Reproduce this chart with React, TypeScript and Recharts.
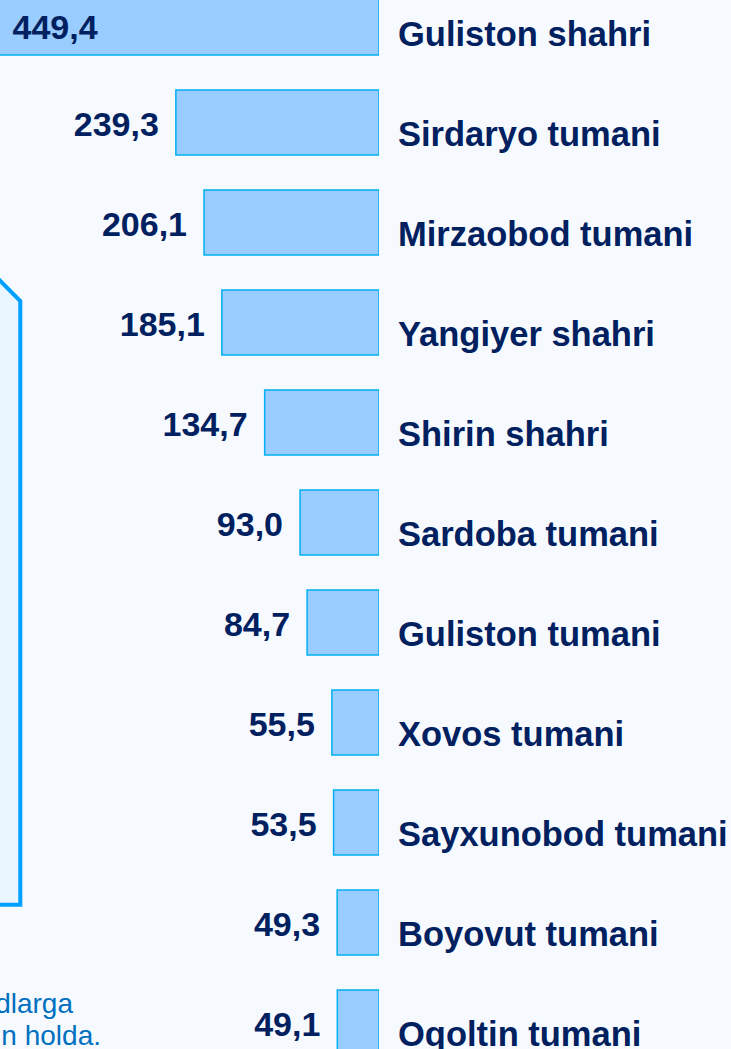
import React from 'react';
import { BarChart, Bar, XAxis, YAxis, LabelList } from 'recharts';

const districts = [
  'Guliston shahri',
  'Sirdaryo tumani',
  'Mirzaobod tumani',
  'Yangiyer shahri',
  'Shirin shahri',
  'Sardoba tumani',
  'Guliston tumani',
  'Xovos tumani',
  'Sayxunobod tumani',
  'Boyovut tumani',
  'Oqoltin tumani',
];
const values = [449.4, 239.3, 206.1, 185.1, 134.7, 93.0, 84.7, 55.5, 53.5, 49.3, 49.1];
const xDomain: [number, number] = [0, 470];
const noteLines = ['dlarga', 'n holda.'];

const data = districts.map((name, i) => ({ name, value: values[i] }));

const FONT = '"Liberation Sans", Arial, Helvetica, sans-serif';
const NAVY = '#002060';

const fmt = (v: number) => v.toFixed(1).replace('.', ',');

const ValueLabel = (props: any) => {
  const { x, y, width, height, index, value } = props;
  const left = Math.min(Number(x), Number(x) + Number(width));
  const cy = Number(y) + Number(height) / 2;
  if (index === 0) {
    return (
      <text x={left + 15} y={cy + 16} textAnchor="start" fontFamily={FONT} fontWeight="bold" fontSize={34} fill={NAVY}>
        {fmt(Number(value))}
      </text>
    );
  }
  return (
    <text x={left - 17} y={cy + 13} textAnchor="end" fontFamily={FONT} fontWeight="bold" fontSize={34} fill={NAVY}>
      {fmt(Number(value))}
    </text>
  );
};

const CategoryTick = (props: any) => {
  const { x, y, payload } = props;
  return (
    <text x={Number(x) + 19} y={Number(y) + 24} textAnchor="start" fontFamily={FONT} fontWeight="bold" fontSize={34.5} fill={NAVY}>
      {payload.value}
    </text>
  );
};

export default function App() {
  return (
    <div
      style={{
        position: 'fixed',
        left: 0,
        top: 0,
        width: 731,
        height: 1049,
        overflow: 'hidden',
        background: '#f6faff',
      }}
    >
      <svg width={731} height={1049} style={{ position: 'absolute', left: 0, top: 0 }}>
        <polygon
          points="-10,270.7 20.3,301 20.3,904.7 -10,904.7"
          fill="#e9f5ff"
          stroke="#00a0ff"
          strokeWidth={4}
        />
        <text x={73} y={1013} textAnchor="end" fontFamily={FONT} fontSize={28} fill="#0070c0">
          {noteLines[0]}
        </text>
        <text x={101} y={1045} textAnchor="end" fontFamily={FONT} fontSize={28} fill="#0070c0">
          {noteLines[1]}
        </text>
      </svg>
      <div style={{ position: 'absolute', left: -20, top: -28.5 }}>
        <BarChart
          width={751}
          height={1100}
          data={data}
          layout="vertical"
          margin={{ top: 0, right: 0, bottom: 0, left: 0 }}
        >
          <XAxis type="number" domain={xDomain} reversed hide allowDataOverflow />
          <YAxis
            type="category"
            dataKey="name"
            orientation="right"
            width={352}
            axisLine={false}
            tickLine={false}
            tickSize={0}
            tickMargin={0}
            tick={<CategoryTick />}
            interval={0}
          />
          <Bar
            dataKey="value"
            barSize={65}
            fill="#99ccff"
            stroke="#00b0f0"
            strokeWidth={1.5}
            isAnimationActive={false}
          >
            <LabelList dataKey="value" content={<ValueLabel />} />
          </Bar>
        </BarChart>
      </div>
    </div>
  );
}
